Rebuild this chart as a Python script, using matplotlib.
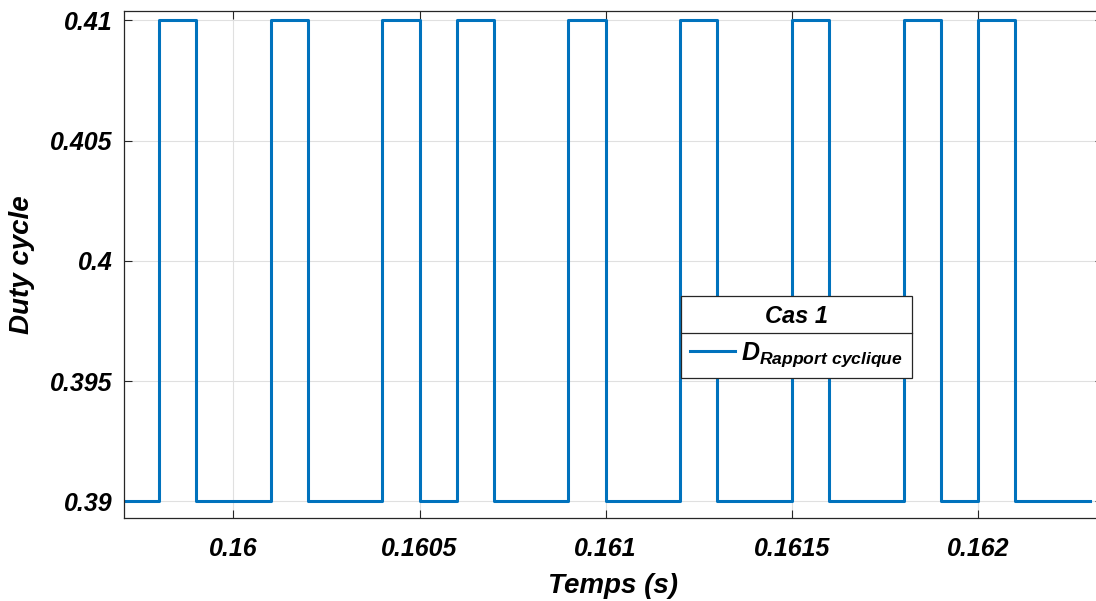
import matplotlib
matplotlib.use("Agg")
import matplotlib.pyplot as plt
from matplotlib.lines import Line2D

# ===================================
# Data (step signal, 0.1 ms sampling)
# ===================================
temps = [0.1597, 0.1598, 0.1599, 0.1600, 0.1601, 0.1602, 0.1603, 0.1604,
         0.1605, 0.1606, 0.1607, 0.1608, 0.1609, 0.1610, 0.1611, 0.1612,
         0.1613, 0.1614, 0.1615, 0.1616, 0.1617, 0.1618, 0.1619, 0.1620,
         0.1621, 0.1622, 0.1623]
duty = [0.39, 0.41, 0.39, 0.39, 0.41, 0.39, 0.39, 0.41,
        0.39, 0.41, 0.39, 0.39, 0.41, 0.39, 0.39, 0.41,
        0.39, 0.39, 0.41, 0.39, 0.39, 0.41, 0.39, 0.41,
        0.39, 0.39, 0.39]

xticks = [0.16, 0.1605, 0.161, 0.1615, 0.162]
xtick_labels = ["0.16", "0.1605", "0.161", "0.1615", "0.162"]
yticks = [0.39, 0.395, 0.4, 0.405, 0.41]
ytick_labels = ["0.39", "0.395", "0.4", "0.405", "0.41"]

plt.rcParams["font.family"] = ["Liberation Sans", "DejaVu Sans"]
plt.rcParams["font.weight"] = "bold"
plt.rcParams["font.style"] = "italic"
plt.rcParams["mathtext.fontset"] = "custom"
plt.rcParams["mathtext.it"] = "Liberation Sans:italic:bold"
plt.rcParams["mathtext.rm"] = "Liberation Sans:italic:bold"
plt.rcParams["mathtext.default"] = "it"

fig = plt.figure(figsize=(10.96, 6.01), dpi=100)
ax = fig.add_axes([0.1131, 0.1381, 0.893, 0.8436])

ax.plot(temps, duty, drawstyle="steps-post", color="#0072BD",
        linewidth=2.2, label=r"$D_{Rapport\ cyclique}$")

ax.set_xlim(0.159706, 0.162335)
ax.set_ylim(0.38931, 0.41039)

ax.set_xticks(xticks)
ax.set_xticklabels(xtick_labels)
ax.set_yticks(yticks)
ax.set_yticklabels(ytick_labels)

ax.tick_params(direction="in", length=6, width=0.8, colors="#262626",
               top=True, right=True, labelsize=18)
ax.tick_params(axis="y", pad=8)
ax.tick_params(axis="x", pad=14)
for lab in ax.get_xticklabels() + ax.get_yticklabels():
    lab.set_color("black")
    lab.set_fontweight("bold")
    lab.set_fontstyle("italic")

for sp in ax.spines.values():
    sp.set_color("#262626")
    sp.set_linewidth(0.9)

ax.grid(True, color="#e0e0e0", linewidth=0.8)
ax.set_axisbelow(True)

ax.set_xlabel("Temps (s)", fontsize=20, fontweight="bold",
              fontstyle="italic", labelpad=8)
ax.set_ylabel("Duty cycle", fontsize=20, fontweight="bold",
              fontstyle="italic", labelpad=11)

leg = ax.legend(loc="upper left",
                bbox_to_anchor=(681 / 1096, 1 - 296 / 601),
                bbox_transform=fig.transFigure, borderaxespad=0,
                title="Cas 1", fancybox=False, framealpha=1,
                edgecolor="#262626", fontsize=18, handlelength=1.8,
                handletextpad=0.25, borderpad=0.35)
leg.get_title().set_fontsize(17)
leg.get_title().set_fontweight("bold")
leg.get_title().set_fontstyle("italic")
leg.get_frame().set_linewidth(0.9)

# separator under legend title
fig.canvas.draw()
r = fig.canvas.get_renderer()
lb = leg.get_window_extent(r)
tb = leg.get_title().get_window_extent(r)
ysep = tb.y0 - 5
sep = Line2D([lb.x0, lb.x1], [ysep, ysep], transform=None,
             color="#262626", linewidth=0.9, zorder=10)
fig.add_artist(sep)

fig.savefig("out.png", dpi=100)
